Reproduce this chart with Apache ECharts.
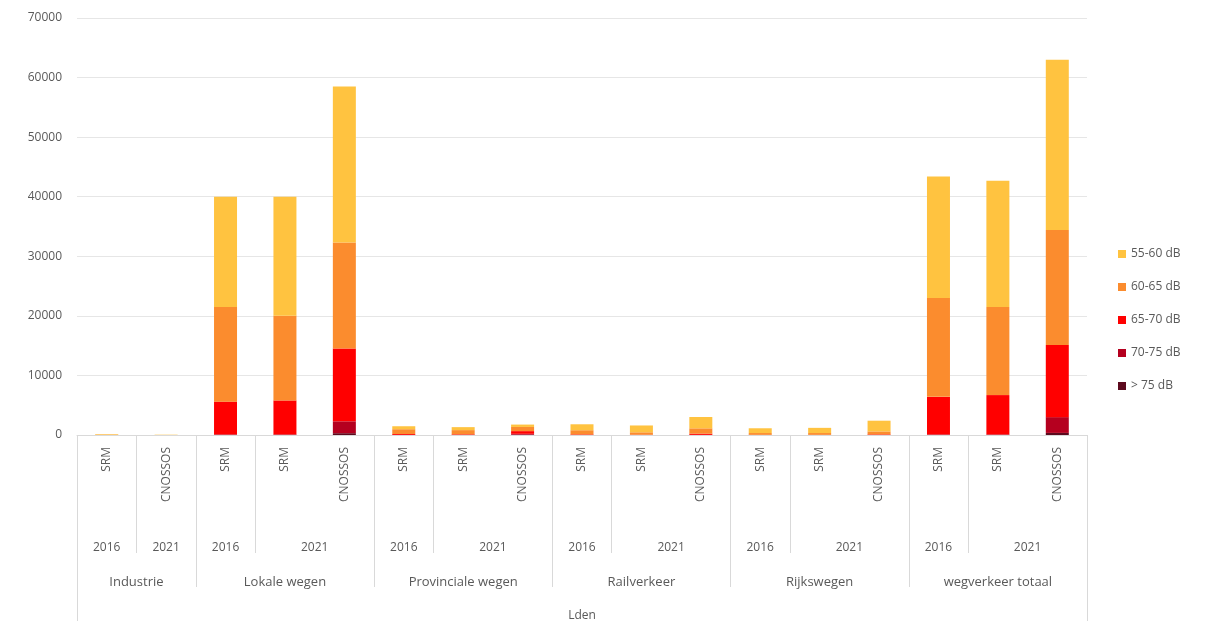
<!DOCTYPE html>
<html>
  <head>
    <meta charset="UTF-8">
    <title>Lden</title>
    <script src="https://cdn.jsdelivr.net/npm/echarts@6/dist/echarts.min.js"></script>
    <style>
    * {
      margin: 0;
      padding: 0;
    }
    </style>
  </head>
  <body>
    <div id="main" style="width: 1210px;height: 627px"></div>
    <script>
// categorieën: methode / jaar / bron
var methods = ['SRM', 'CNOSSOS', 'SRM', 'SRM', 'CNOSSOS', 'SRM', 'SRM', 'CNOSSOS', 'SRM', 'SRM', 'CNOSSOS', 'SRM', 'SRM', 'CNOSSOS', 'SRM', 'SRM', 'CNOSSOS']
var yearLabels = ['2016', '2021', '2016', '2021', '2016', '2021', '2016', '2021', '2016', '2021', '2016', '2021']
var yearCenters = [0.5, 1.5, 2.5, 4, 5.5, 7, 8.5, 10, 11.5, 13, 14.5, 16]
var groupLabels = ['Industrie', 'Lokale wegen', 'Provinciale wegen', 'Railverkeer', 'Rijkswegen', 'wegverkeer totaal']
var groupCenters = [1, 3.5, 6.5, 9.5, 12.5, 15.5]
var yearBounds = [1, 3, 6, 9, 12, 15]
var groupBounds = [2, 5, 8, 11, 14]
var outerBounds = [0, 17]

var bandNames = ['> 75 dB', '70-75 dB', '65-70 dB', '60-65 dB', '55-60 dB']
var bandColors = ['#5c0a1e', '#b5001f', '#ff0000', '#fb8c2e', '#ffc340']

var over75 = [0, 0, 0, 0, 300, 0, 0, 50, 0, 0, 0, 0, 0, 0, 0, 0, 350]
var db70_75 = [0, 0, 100, 100, 2000, 20, 20, 150, 0, 0, 20, 0, 0, 0, 100, 100, 2650]
var db65_70 = [0, 0, 5500, 5700, 12200, 150, 100, 450, 100, 50, 200, 30, 30, 100, 6300, 6600, 12100]
var db60_65 = [50, 0, 15900, 14200, 17800, 800, 700, 700, 700, 400, 900, 300, 300, 500, 16600, 14800, 19300]
var db55_60 = [100, 50, 18500, 20000, 26200, 500, 500, 400, 1000, 1150, 1900, 800, 870, 1800, 20400, 21200, 28600]
var bandData = [over75, db70_75, db65_70, db60_65, db55_60]

var textColor = '#595959'
var lineColor = '#d9d9d9'

var myChart = echarts.init(document.getElementById('main'))

function boundAxis(values, len, extra) {
  return Object.assign({
    type: 'value',
    position: 'bottom',
    min: 0,
    max: 17,
    axisLine: { show: false },
    splitLine: { show: false },
    axisTick: {
      show: true,
      customValues: values,
      length: len,
      lineStyle: { color: lineColor }
    },
    axisLabel: { show: false }
  }, extra || {})
}

var option = {
  backgroundColor: '#fff',
  textStyle: { fontFamily: 'Open Sans', color: textColor },
  grid: { left: 77, right: 123, top: 18, bottom: 186 },
  legend: {
    orient: 'vertical',
    left: 1113,
    top: 243,
    itemWidth: 8,
    itemHeight: 8,
    itemGap: 21,
    icon: 'rect',
    textStyle: { color: textColor, fontSize: 12 },
    data: bandNames.slice().reverse()
  },
  xAxis: [
    {
      type: 'category',
      data: methods,
      axisLine: { lineStyle: { color: lineColor } },
      axisTick: { show: false },
      axisLabel: { rotate: 90, color: textColor, fontSize: 12, margin: 12, interval: 0 }
    },
    boundAxis(yearBounds, 118, {
      axisLabel: {
        show: true,
        customValues: yearCenters,
        color: textColor,
        fontSize: 12,
        margin: 107,
        formatter: function(v) {
          return yearLabels[yearCenters.indexOf(v)]
        }
      }
    }),
    boundAxis(groupBounds, 152, {
      axisLabel: {
        show: true,
        customValues: groupCenters,
        color: textColor,
        fontSize: 13,
        margin: 141,
        formatter: function(v) {
          return groupLabels[groupCenters.indexOf(v)]
        }
      }
    }),
    boundAxis(outerBounds, 186, {
      name: 'Lden',
      nameLocation: 'middle',
      nameGap: 175,
      nameTextStyle: { color: textColor, fontSize: 12 }
    })
  ],
  yAxis: {
    type: 'value',
    min: 0,
    max: 70000,
    interval: 10000,
    axisLine: { show: false },
    axisTick: { show: false },
    axisLabel: {
      color: textColor,
      fontSize: 12,
      margin: 15,
      formatter: function(v) { return String(v) }
    },
    splitLine: { lineStyle: { color: '#e6e6e6' } }
  },
  series: bandNames.map(function(name, i) {
    return {
      name: name,
      type: 'bar',
      stack: 'lden',
      barWidth: 23,
      xAxisIndex: 0,
      itemStyle: { color: bandColors[i] },
      data: bandData[i]
    }
  })
}

myChart.setOption(option)
    </script>
  </body>
</html>
